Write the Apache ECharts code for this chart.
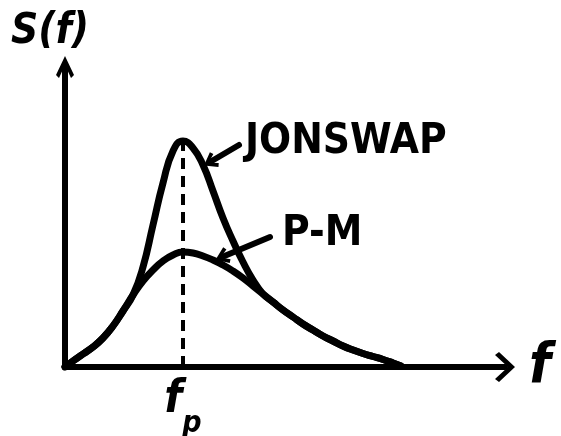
<!DOCTYPE html>
<html>
<head>
<meta charset="utf-8">
<title>S(f)</title>
<script src="https://cdn.jsdelivr.net/npm/echarts@6/dist/echarts.min.js"></script>
<style>
  html, body { margin: 0; padding: 0; background: #ffffff; }
  #chart { width: 561px; height: 436px; }
</style>
</head>
<body>
<div id="chart"></div>
<script>
// Frequency samples (arbitrary units) shared by both spectra
const freq = [0, 0.8, 1.8, 2.8, 3.8, 4.8, 5.8, 6.8, 7.8, 8.8, 9.8, 10.8, 11.8,
              12.8, 13.8, 14.8, 15.8, 16.8, 17.8, 18.8, 19.8, 20.8, 21.8, 22.8,
              23.8, 24.8, 25.8, 26.8, 27.8, 28.8, 29.8, 30.8, 31.8, 32.8, 33.6];
// Pierson-Moskowitz spectrum
const pm = [0, 0.6, 1.3, 2.0, 2.9, 4.1, 5.6, 7.2, 8.6, 9.7, 10.6, 11.2, 11.5,
            11.4, 11.1, 10.7, 10.2, 9.6, 8.9, 8.1, 7.3, 6.5, 5.7, 5.0,
            4.3, 3.7, 3.1, 2.6, 2.1, 1.7, 1.35, 1.05, 0.75, 0.4, 0.1];
// JONSWAP spectrum (peak-enhanced)
const jonswap = [0, 0.6, 1.3, 2.0, 2.9, 4.1, 5.6, 7.2, 10.0, 14.2, 18.4, 21.6, 22.6,
                 21.9, 20.2, 17.6, 14.9, 12.6, 10.5, 8.7, 7.3, 6.5, 5.7, 5.0,
                 4.3, 3.7, 3.1, 2.6, 2.1, 1.7, 1.35, 1.05, 0.75, 0.4, 0.1];
// Axis names and labels
const yName = 'S(f)';
const xName = 'f';
const seriesNames = ['JONSWAP', 'P-M'];

const peakValue = Math.max(...jonswap);
const peakFreq = freq[jonswap.indexOf(peakValue)];

const ink = '#000000';
const handFont = "'DejaVu Sans Condensed', 'DejaVu Sans', sans-serif";

// open chevron heads (tip pointing up in their own box)
const yArrow = 'path://M9,0 L18,19 L15,22 L9,9 L3,22 L0,19 Z';
const xArrow = 'path://M15,0 L30,16 L27,20 L15,7 L3,20 L0,16 Z';
const ptrArrow = 'path://M8,0 L16,11 L13,13 L8,5 L3,13 L0,11 Z';

const chart = echarts.init(document.getElementById('chart'), null, { renderer: 'canvas' });

const curveStyle = { color: ink, width: 7, cap: 'round', join: 'round' };

chart.setOption({
  backgroundColor: '#ffffff',
  animation: false,
  grid: { left: 65, top: 67, width: 440, height: 300, containLabel: false, outerBoundsMode: 'none' },
  xAxis: {
    type: 'value', min: 0, max: 44,
    name: xName,
    nameLocation: 'end',
    nameGap: 24,
    nameTextStyle: { color: ink, fontFamily: handFont, fontSize: 56, fontWeight: 'bold', fontStyle: 'italic', padding: [56, 0, 0, 0] },
    axisLine: { show: true, symbol: ['none', xArrow], symbolSize: [30, 20], lineStyle: { color: ink, width: 6, cap: 'round' } },
    axisTick: { show: false },
    splitLine: { show: false },
    axisLabel: {
      customValues: [peakFreq],
      margin: 10,
      formatter: () => '{f|f}{p|p}',
      rich: {
        f: { fontFamily: handFont, fontSize: 46, fontWeight: 'bold', fontStyle: 'italic', color: ink, lineHeight: 46, verticalAlign: 'top' },
        p: { fontFamily: handFont, fontSize: 30, fontWeight: 'bold', fontStyle: 'italic', color: ink, lineHeight: 62, verticalAlign: 'bottom' }
      }
    }
  },
  yAxis: {
    type: 'value', min: 0, max: 30,
    name: yName,
    nameLocation: 'end',
    nameGap: 14,
    nameTextStyle: { color: ink, fontFamily: handFont, fontSize: 42, fontWeight: 'bold', fontStyle: 'italic', padding: [0, 30, 0, 0] },
    axisLine: { show: true, symbol: ['none', yArrow], symbolSize: [18, 22], lineStyle: { color: ink, width: 6, cap: 'round' } },
    axisTick: { show: false },
    splitLine: { show: false },
    axisLabel: { show: false }
  },
  series: [
    {
      name: seriesNames[0],
      type: 'line',
      data: freq.map((f, i) => [f, jonswap[i]]),
      smooth: 0.5,
      showSymbol: false,
      lineStyle: curveStyle,
      silent: true,
      z: 3,
      markLine: {
        silent: true,
        animation: false,
        label: { show: false },
        emphasis: { disabled: true },
        data: [
          [
            { coord: [peakFreq, 0], symbol: 'none', lineStyle: { color: ink, width: 4, type: [11, 7] } },
            { coord: [peakFreq, peakValue], symbol: 'none' }
          ],
          [
            { coord: [17.4, 22.2], symbol: 'none', lineStyle: { color: ink, width: 6, type: 'solid', curveness: -0.25, cap: 'round' } },
            { coord: [14.5, 20.5], symbol: ptrArrow, symbolSize: [17, 14] }
          ]
        ]
      },
      markPoint: {
        silent: true,
        symbol: 'circle',
        symbolSize: 0,
        itemStyle: { color: 'rgba(0,0,0,0)' },
        data: [
          {
            coord: [18.0, 22.5],
            label: {
              show: true, position: 'right', distance: 0, formatter: seriesNames[0],
              color: ink, fontFamily: handFont, fontSize: 42, fontWeight: 'bold'
            }
          }
        ]
      }
    },
    {
      name: seriesNames[1],
      type: 'line',
      data: freq.map((f, i) => [f, pm[i]]),
      smooth: 0.5,
      showSymbol: false,
      lineStyle: curveStyle,
      silent: true,
      z: 3,
      markLine: {
        silent: true,
        animation: false,
        label: { show: false },
        emphasis: { disabled: true },
        data: [
          [
            { coord: [20.5, 13.0], symbol: 'none', lineStyle: { color: ink, width: 6, type: 'solid', curveness: -0.15, cap: 'round' } },
            { coord: [15.7, 11.0], symbol: ptrArrow, symbolSize: [17, 14] }
          ]
        ]
      },
      markPoint: {
        silent: true,
        symbol: 'circle',
        symbolSize: 0,
        itemStyle: { color: 'rgba(0,0,0,0)' },
        data: [
          {
            coord: [21.7, 13.3],
            label: {
              show: true, position: 'right', distance: 0, formatter: seriesNames[1],
              color: ink, fontFamily: handFont, fontSize: 42, fontWeight: 'bold'
            }
          }
        ]
      }
    }
  ]
});
</script>
</body>
</html>
